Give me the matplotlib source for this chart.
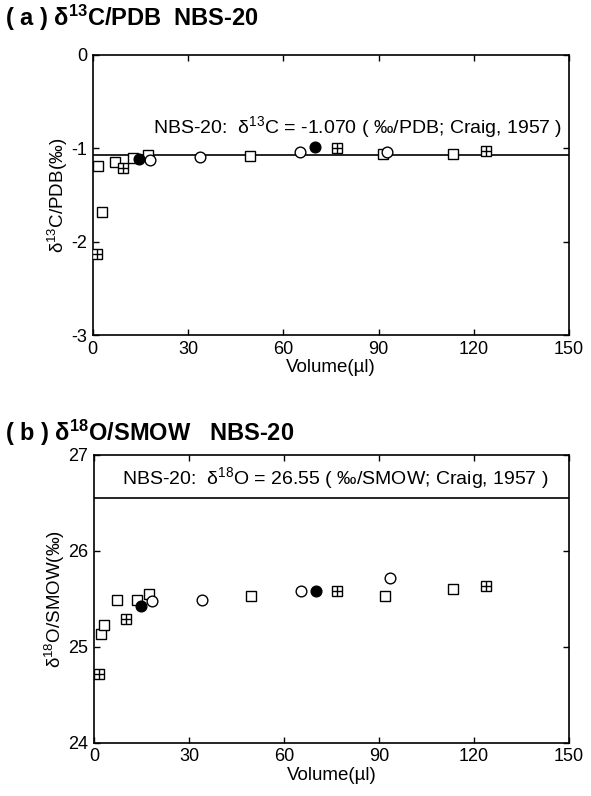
import matplotlib
matplotlib.use("Agg")
import matplotlib.pyplot as plt

plt.rcParams['font.family'] = ['Liberation Sans', 'DejaVu Sans']
plt.rcParams['mathtext.fontset'] = 'custom'
plt.rcParams['mathtext.rm'] = 'Liberation Sans'
plt.rcParams['mathtext.it'] = 'Liberation Sans:italic'
plt.rcParams['mathtext.bf'] = 'Liberation Sans:bold'
plt.rcParams['axes.unicode_minus'] = False

# (a) delta13C vs volume
a_sq_x = [1.7, 2.8, 7.1, 12.7, 17.4, 49.6, 91.5, 113.4]
a_sq_y = [-1.19, -1.68, -1.15, -1.10, -1.07, -1.08, -1.06, -1.06]
a_xsq_x = [1.4, 9.5, 76.8, 123.8]
a_xsq_y = [-2.13, -1.21, -1.00, -1.03]
a_oc_x = [17.9, 33.9, 65.4, 92.7]
a_oc_y = [-1.13, -1.09, -1.04, -1.04]
a_fc_x = [14.5, 69.9]
a_fc_y = [-1.11, -0.99]
a_ref = -1.070

# (b) delta18O vs volume
b_sq_x = [2.1, 3.3, 7.2, 13.5, 17.5, 49.7, 91.8, 113.4]
b_sq_y = [25.13, 25.22, 25.49, 25.49, 25.55, 25.53, 25.53, 25.60]
b_xsq_x = [1.7, 10.0, 76.6, 123.6]
b_xsq_y = [24.72, 25.29, 25.58, 25.63]
b_oc_x = [18.2, 34.0, 65.2, 93.4]
b_oc_y = [25.47, 25.49, 25.58, 25.71]
b_fc_x = [15.0, 70.2]
b_fc_y = [25.42, 25.58]
b_ref = 26.55

x_ticks = [0, 30, 60, 90, 120, 150]

fig = plt.figure(figsize=(5.91, 7.96), dpi=100)
ax1 = fig.add_axes([0.157, 0.579, 0.806, 0.352])
ax2 = fig.add_axes([0.159, 0.067, 0.804, 0.362])

ms = 7.2
mew = 1.0


def draw_points(ax, sq_x, sq_y, xsq_x, xsq_y, oc_x, oc_y, fc_x, fc_y):
    ax.plot(sq_x, sq_y, 's', ms=ms, mfc='white', mec='black', mew=mew, zorder=3)
    ax.plot(xsq_x, xsq_y, 's', ms=ms, mfc='white', mec='black', mew=mew, zorder=3)
    ax.plot(xsq_x, xsq_y, '+', ms=ms, mec='black', mew=mew, zorder=4)
    ax.plot(oc_x, oc_y, 'o', ms=ms + 0.5, mfc='white', mec='black', mew=mew, zorder=3)
    ax.plot(fc_x, fc_y, 'o', ms=ms + 0.5, mfc='black', mec='black', mew=mew, zorder=5)


def style_axes(ax, ylim, yticks):
    ax.set_xlim(0, 150)
    ax.set_ylim(*ylim)
    ax.set_xticks(x_ticks)
    ax.set_yticks(yticks)
    ax.tick_params(direction='in', top=True, right=True, length=4, width=1,
                   labelsize=13, pad=4)
    for s in ax.spines.values():
        s.set_linewidth(1.2)
    ax.set_xlabel('Volume(\u00b5l)', fontsize=13.5, labelpad=1)


# panel a
draw_points(ax1, a_sq_x, a_sq_y, a_xsq_x, a_xsq_y, a_oc_x, a_oc_y, a_fc_x, a_fc_y)
ax1.axhline(a_ref, color='black', lw=1.2, zorder=2)
style_axes(ax1, (-3, 0), [-3, -2, -1, 0])
ax1.set_ylabel('\u03b4$^{13}$C/PDB(\u2030)', fontsize=13.5, labelpad=1)
ax1.text(19.0, -0.77, 'NBS-20:  \u03b4$^{13}$C = -1.070 ( \u2030/PDB; Craig, 1957 )',
         fontsize=14, va='center', ha='left')

# panel b
draw_points(ax2, b_sq_x, b_sq_y, b_xsq_x, b_xsq_y, b_oc_x, b_oc_y, b_fc_x, b_fc_y)
ax2.axhline(b_ref, color='black', lw=1.2, zorder=2)
style_axes(ax2, (24, 27), [24, 25, 26, 27])
ax2.set_ylabel('\u03b4$^{18}$O/SMOW(\u2030)', fontsize=13.5, labelpad=1)
ax2.text(9.0, 26.76, 'NBS-20:  \u03b4$^{18}$O = 26.55 ( \u2030/SMOW; Craig, 1957 )',
         fontsize=14, va='center', ha='left')

fig.text(5 / 591, 1 - 18 / 796, '( a ) \u03b4$^{\\mathbf{13}}$C/PDB  NBS-20',
         fontsize=17, fontweight='bold', va='center', ha='left')
fig.text(5 / 591, 1 - 433 / 796, '( b ) \u03b4$^{\\mathbf{18}}$O/SMOW   NBS-20',
         fontsize=17, fontweight='bold', va='center', ha='left')

fig.savefig('out.png', dpi=100)
plt.close(fig)
